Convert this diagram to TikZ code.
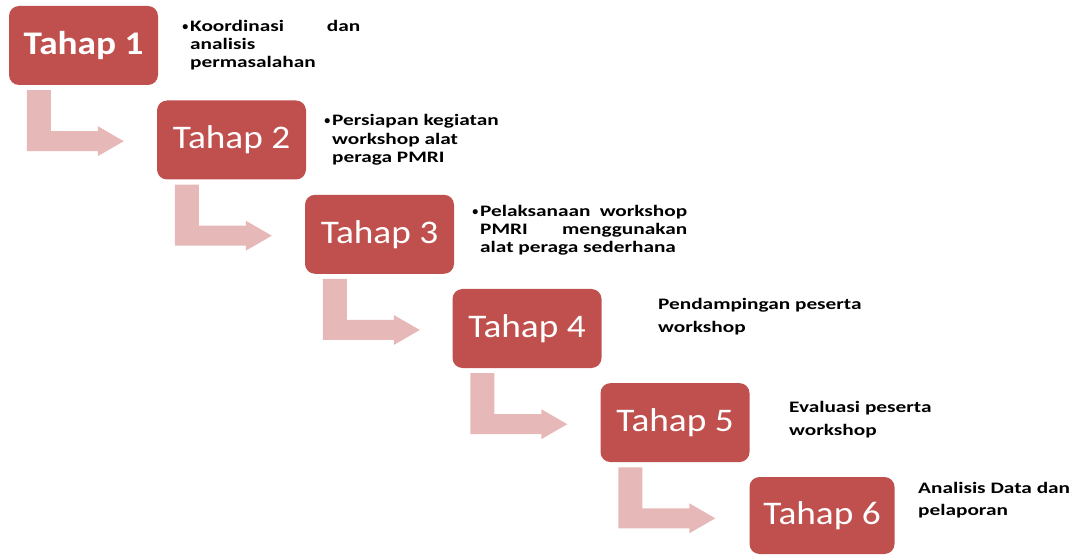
\documentclass[tikz,border=0pt]{standalone}
\usepackage{fontspec}
\newfontfamily\boxfont[FakeStretch=1.13]{Carlito}
\newfontfamily\sidefont[FakeStretch=1.33]{Carlito}
\newfontfamily\bulletfont{Carlito}
\definecolor{boxred}{HTML}{C0504D}
\definecolor{arrowpink}{HTML}{E6B9B8}
\begin{document}
\begin{tikzpicture}[x=1pt,y=-1pt,
  box/.style={fill=boxred, rounded corners=10pt, minimum width=149pt, minimum height=79pt,
    inner sep=0pt, text=white, font=\boxfont\fontsize{33}{36}\selectfont},
  side/.style={anchor=base west, inner sep=0pt, text=black,
    font=\sidefont\bfseries\fontsize{16}{18}\selectfont},
  bul/.style={anchor=base east, inner sep=0pt, text=black,
    font=\bulletfont\bfseries\fontsize{12}{14}\selectfont},
  bendarrow/.style={fill=arrowpink}]
\useasboundingbox (0,0) rectangle (1080,556);
% boxes
\node[box, font=\boxfont\bfseries\fontsize{33}{36}\selectfont] (t1) at (83.5,45.5) {Tahap 1};
\node[box] (t2) at (231.5,140) {Tahap 2};
\node[box] (t3) at (379.5,234.3) {Tahap 3};
\node[box] (t4) at (527,328.5) {Tahap 4};
\node[box] (t5) at (675,422.6) {Tahap 5};
\node[box, minimum width=145pt, minimum height=77pt] (t6) at (822,515.5) {Tahap 6};
% bent arrows
\foreach \k in {1,...,5}{
  \fill[bendarrow, shift={(t\k.south west)}]
    (18,5) -- (42,5) -- (42,46) -- (89,46) -- (89,41) -- (115,56)
    -- (89,71) -- (89,66) -- (18,66) -- cycle;
}
% side texts
\node[bul] (b1) at (188.5,31) {\textbullet};
\node[side] (s1a) at (190,32) {\makebox[170pt][s]{Koordinasi dan}};
\node[side] (s1b) at (190,50) {analisis};
\node[side] (s1c) at (190,68) {permasalahan};
\node[bul] (b2) at (330.5,125) {\textbullet};
\node[side] (s2a) at (332,126) {Persiapan kegiatan};
\node[side] (s2b) at (332,144.5) {workshop alat};
\node[side] (s2c) at (332,163) {peraga PMRI};
\node[bul] (b3) at (478.5,216) {\textbullet};
\node[side] (s3a) at (480,217) {\makebox[207pt][s]{Pelaksanaan workshop}};
\node[side] (s3b) at (480,235) {\makebox[207pt][s]{PMRI menggunakan}};
\node[side] (s3c) at (480,253) {alat peraga sederhana};
\node[side] (s4a) at (658,309) {Pendampingan peserta};
\node[side] (s4b) at (658,333) {workshop};
\node[side] (s5a) at (789,412) {Evaluasi peserta};
\node[side] (s5b) at (789,435) {workshop};
\node[side] (s6a) at (918,493) {Analisis Data dan};
\node[side] (s6b) at (918,515) {pelaporan};
\end{tikzpicture}
\end{document}
